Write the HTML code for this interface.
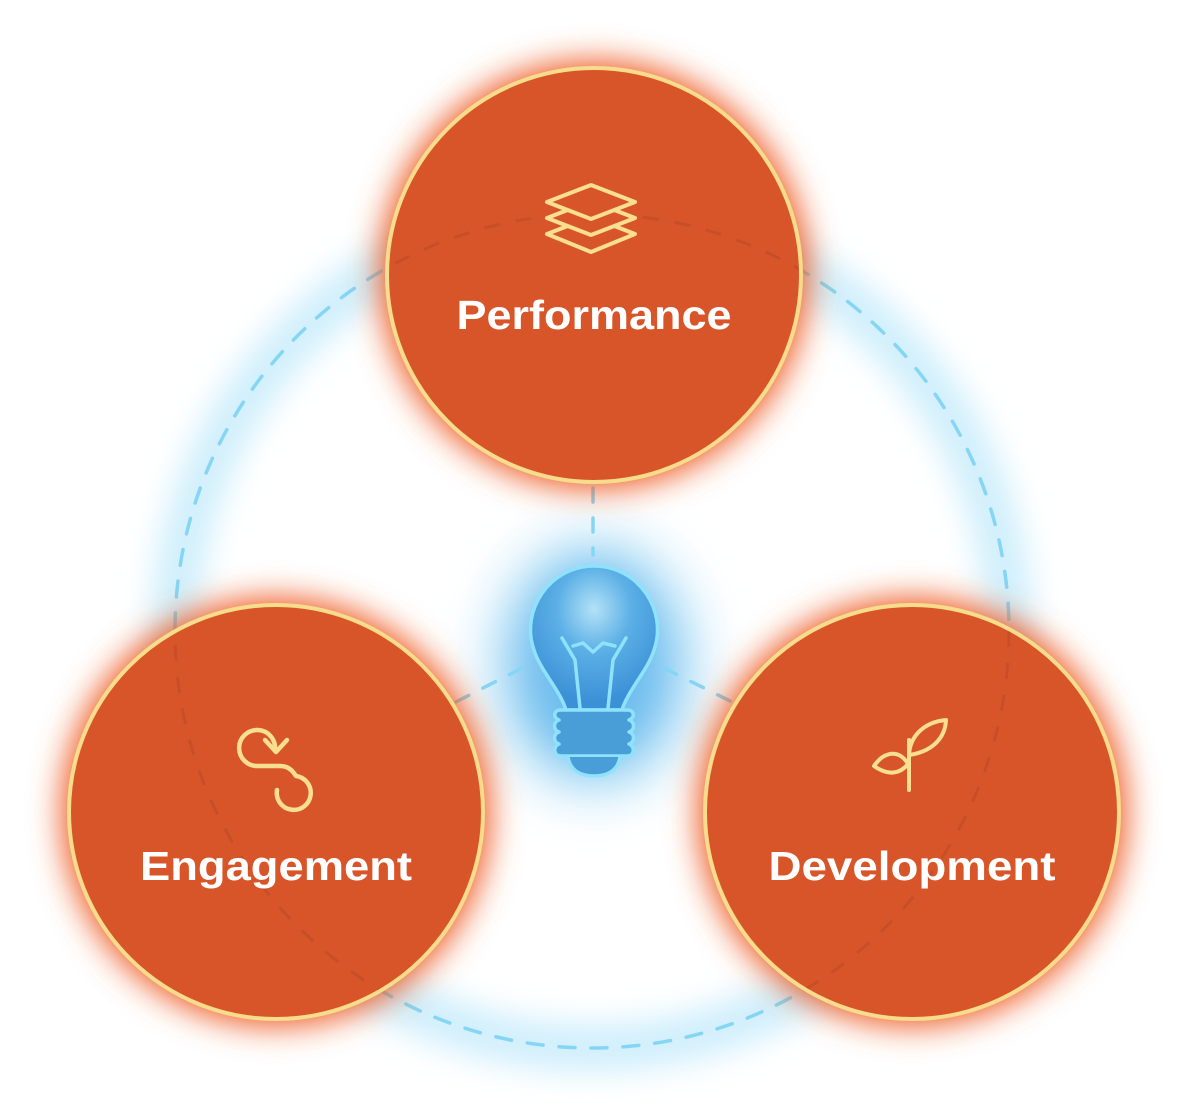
<!DOCTYPE html>
<html><head><meta charset="utf-8"><style>
html,body{margin:0;padding:0;background:#fff;}
svg{display:block;}
text{font-family:"Liberation Sans",sans-serif;font-weight:bold;fill:#fff;}
</style></head><body>
<svg width="1200" height="1113" viewBox="0 0 1200 1113" xmlns="http://www.w3.org/2000/svg">
<defs>
<filter id="og" x="-30%" y="-30%" width="160%" height="160%"><feGaussianBlur stdDeviation="16"/></filter>
<filter id="bg" x="-30%" y="-30%" width="160%" height="160%"><feGaussianBlur stdDeviation="16"/></filter>
<filter id="bb" x="-60%" y="-60%" width="220%" height="220%"><feGaussianBlur stdDeviation="24"/></filter>
<radialGradient id="bulbg" cx="0.5" cy="0.3" r="0.65">
<stop offset="0" stop-color="#b4e2f7"/><stop offset="0.45" stop-color="#5cb0e6"/><stop offset="1" stop-color="#3b90d6"/>
</radialGradient>
<clipPath id="cc">
<circle cx="594" cy="275" r="205"/>
<circle cx="276" cy="812" r="205"/>
<circle cx="912" cy="812" r="205"/>
</clipPath>
</defs>
<circle cx="592" cy="631" r="417" fill="none" stroke="#cdeefc" stroke-width="46" filter="url(#bg)"/>
<circle cx="592" cy="631" r="417" fill="none" stroke="#85d6f5" stroke-width="3.5" stroke-dasharray="16 16" stroke-linecap="round"/>
<ellipse cx="594" cy="665" rx="115" ry="140" fill="#d6effb" filter="url(#bb)"/>
<ellipse cx="594" cy="665" rx="80" ry="105" fill="#6cbcee" filter="url(#bb)"/>
<g stroke="#85d6f5" stroke-width="3.5" stroke-dasharray="14 16" stroke-linecap="round" fill="none">
<line x1="593" y1="488" x2="593" y2="555"/>
<line x1="522" y1="668" x2="450" y2="705"/>
<line x1="664" y1="668" x2="738" y2="705"/>
</g>
<g fill="#ee5a20" filter="url(#og)">
<circle cx="594" cy="275" r="214"/>
<circle cx="276" cy="812" r="214"/>
<circle cx="912" cy="812" r="214"/>
</g>
<g fill="#d8552a" stroke="#f7dc8c" stroke-width="4">
<circle cx="594" cy="275" r="207"/>
<circle cx="276" cy="812" r="207"/>
<circle cx="912" cy="812" r="207"/>
</g>
<g clip-path="url(#cc)">
<circle cx="592" cy="631" r="417" fill="none" stroke="#b44a22" stroke-opacity="0.45" stroke-width="3" stroke-dasharray="16 16"/>
</g>
<g stroke="#8fe2fb" stroke-width="3.5" fill="none" stroke-linecap="round" stroke-linejoin="round">
<path d="M566 710 C560 690 540 670 534 650 C520 610 550 566 594 566 C638 566 668 610 654 650 C648 670 628 690 622 710 Z" fill="url(#bulbg)"/>
<path d="M562 638 L575 660 L580 708"/>
<path d="M626 638 L613 660 L608 708"/>
<path d="M573 646 L583 643 L593 652 L603 643 L615 646"/>
<path d="M561 710 H627 C635 710 635 718 629 720 C635 722 635 730 629 732 C635 734 635 742 629 744 C635 746 635 756 627 756 H561 C553 756 553 746 559 744 C553 742 553 734 559 732 C553 730 553 722 559 720 C553 718 553 710 561 710 Z" fill="#4a9ed8"/>
<path d="M568 757 C570 770 580 776 594 776 C608 776 618 770 620 757" fill="#4a9ed8"/>
</g>
<g stroke="#f9df8e" stroke-width="4" fill="none" stroke-linejoin="round">
<path d="M591 217 L635 234 L591 252 L547 234 Z"/>
<path d="M591 201 L635 218 L591 235 L547 218 Z" fill="#d8552a"/>
<path d="M591 185 L635 202 L591 219 L547 202 Z" fill="#d8552a"/>
</g>
<g stroke="#f9df8e" stroke-width="4.5" fill="none" stroke-linecap="round" stroke-linejoin="round">
<path d="M275 750 A18 18 0 1 0 258 766 L280 766 C288 766 292 770 296 776 A17 17 0 1 1 277 790"/>
<path d="M265 740 L276 752 L287 740"/>
</g>
<g stroke="#f9df8e" stroke-width="4" fill="none" stroke-linecap="round" stroke-linejoin="round">
<path d="M909 790 V740"/>
<path d="M909 755 C910 735 925 722 946 720 C945 740 930 752 909 755 Z"/>
<path d="M908 764 C900 750 885 750 874 766 C888 776 900 774 908 764 Z"/>
</g>
<text x="594" y="329" text-anchor="middle" font-size="41" textLength="275" lengthAdjust="spacingAndGlyphs">Performance</text>
<text x="276" y="880" text-anchor="middle" font-size="41" textLength="272" lengthAdjust="spacingAndGlyphs">Engagement</text>
<text x="912" y="880" text-anchor="middle" font-size="41" textLength="287" lengthAdjust="spacingAndGlyphs">Development</text>
</svg>
</body></html>
